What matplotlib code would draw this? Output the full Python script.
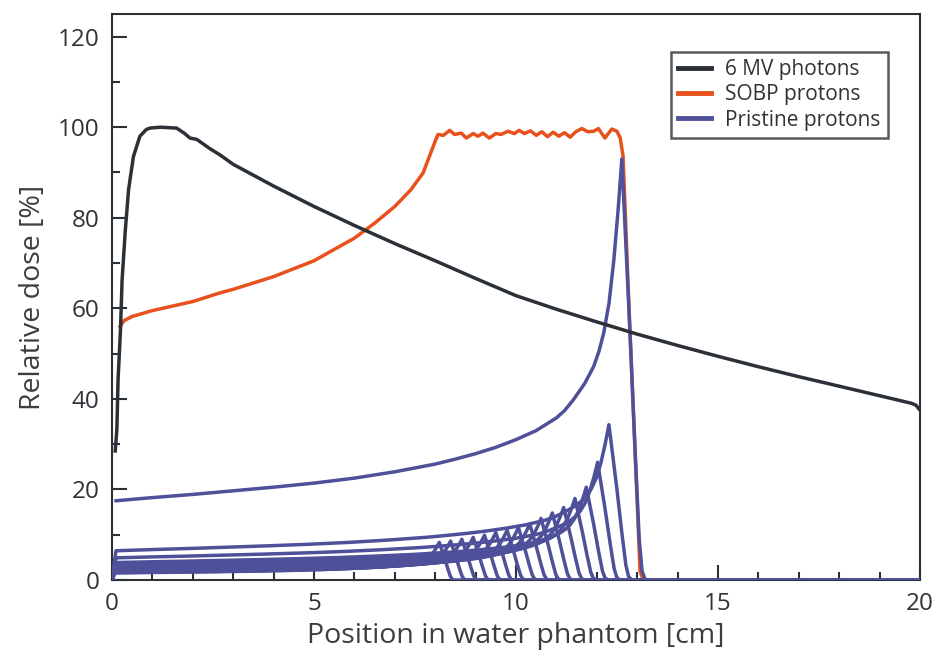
import numpy as np
import matplotlib
matplotlib.use("Agg")
import matplotlib.pyplot as plt
from matplotlib.ticker import MultipleLocator

plt.rcParams['font.family'] = ['Open Sans', 'DejaVu Sans']

# 6 MV photon depth dose
photon_x = [0.08, 0.12, 0.15, 0.21, 0.25, 0.33, 0.41, 0.53, 0.69, 0.85, 0.94, 1.2, 1.6,
            1.8, 1.93, 2.1, 2.4, 2.67, 3, 4, 5, 6, 7, 8, 9, 10, 11, 12, 13, 14, 15,
            16, 17, 18, 19, 19.8, 19.9, 20]
photon_y = [28.5, 33.2, 44.2, 55.2, 66.3, 77.3, 86.2, 93.5, 98.0, 99.5, 99.8, 100, 99.8,
            98.6, 97.6, 97.3, 95.4, 93.9, 91.8, 87.0, 82.5, 78.3, 74.3, 70.5, 66.6, 62.8, 59.8, 57.0,
            54.3, 51.8, 49.4, 47.1, 44.9, 42.8, 40.7, 39.0, 38.6, 37.5]

# spread-out Bragg peak
sobp_x = [0.2, 0.3, 0.5, 1, 2, 2.67, 3, 4, 5, 5.5, 6, 6.5, 7, 7.4, 7.7, 8.0, 8.07,
          8.2, 8.36, 8.48, 8.65, 8.77, 8.94, 9.06, 9.18, 9.34, 9.5, 9.63, 9.8, 9.96,
          10.08, 10.21, 10.36, 10.5, 10.64, 10.78, 10.92, 11.06, 11.2, 11.34, 11.48,
          11.63, 11.78, 11.92, 12.04, 12.2, 12.37, 12.5, 12.58, 12.65, 12.82, 12.95,
          13.07, 13.15, 20]
sobp_y = [56.0, 57.3, 58.2, 59.5, 61.5, 63.4, 64.2, 67.0, 70.5, 73.0, 75.5, 78.8, 82.5,
          86.2, 89.9, 96.9, 98.4,
          98.2, 99.3, 98.4, 98.7, 97.6, 98.6, 98.0, 98.7, 97.6, 98.6, 98.4, 99.1, 98.6,
          99.3, 98.6, 99.2, 98.2, 99.0, 97.9, 98.9, 98.0, 98.8, 97.8, 99.0,
          99.7, 99.0, 99.1, 99.7, 97.6, 99.6, 99.1, 97.6, 93.6, 55.0, 28.0,
          2.0, 0.0, 0.0]

# single (unweighted) pristine Bragg curve
pristine_x = [0.1, 1, 2, 3, 4, 5, 6, 7, 8, 8.5, 9, 9.5, 10, 10.5, 11, 11.2, 11.42, 11.7,
              11.92, 12.05, 12.17, 12.3, 12.42, 12.53, 12.62, 12.72, 12.82, 12.95, 13.05,
              13.12, 13.2, 20]
pristine_y = [17.5, 18.2, 18.9, 19.7, 20.5, 21.4, 22.5, 23.9, 25.6, 26.7, 27.9, 29.3, 31.0,
              33.0, 35.8, 37.4, 39.8, 43.4, 47.1, 50.4, 54.5, 61.0, 70.5, 82.0, 93.0, 74.0,
              55.0, 28.0, 9.0, 2.0, 0.0, 0.0]

# weighted pristine peaks making up the SOBP
peak_depth = [8.10, 8.38, 8.66, 8.94, 9.22, 9.50, 9.78, 10.06, 10.34, 10.62, 10.90,
              11.18, 11.46, 11.74, 12.02, 12.30]
peak_dose = [8.3, 8.6, 9.0, 9.4, 9.9, 10.5, 11.0, 11.6, 12.4, 13.6, 14.8, 16.0, 18.0,
             20.5, 26.0, 34.3]

c_photon = '#2b3137'
c_sobp = '#e8501c'
c_prist = '#4f509a'
c_axis = '#2b3137'

fig = plt.figure(figsize=(9.38, 6.6), dpi=100)
ax = fig.add_axes([112/938, 1-580/660, 808/938, 566/660])

lw = 2.5
ax.plot(sobp_x, sobp_y, color=c_sobp, lw=lw, label='SOBP protons', zorder=2)

# small pristine curves: shape of the single curve, shifted to each peak depth
tx = np.array(pristine_x[:-1])
ty = np.array(pristine_y[:-1])
pk = pristine_x[int(np.argmax(pristine_y))]
for d, h in zip(peak_depth, peak_dose):
    xs = np.concatenate([[0.0], tx * d / pk, [20]])
    ys = np.concatenate([[0.0], ty * h / max(pristine_y), [0.0]])
    ax.plot(xs, ys, color=c_prist, lw=lw, zorder=3)
ax.plot(pristine_x, pristine_y, color=c_prist, lw=lw, label='Pristine protons', zorder=3)

ax.plot(photon_x, photon_y, color=c_photon, lw=lw, label='6 MV photons', zorder=4)

ax.set_xlim(0, 20)
ax.set_ylim(0, 125)
ax.xaxis.set_major_locator(MultipleLocator(5))
ax.xaxis.set_minor_locator(MultipleLocator(1))
ax.yaxis.set_major_locator(MultipleLocator(20))
ax.yaxis.set_minor_locator(MultipleLocator(10))
ax.tick_params(which='both', direction='in', top=False, right=False,
               width=1.5, color=c_axis, labelsize=17.5, labelcolor='#2f3338', pad=9)
ax.tick_params(which='major', length=11)
ax.tick_params(which='minor', length=6)
for s in ax.spines.values():
    s.set_linewidth(1.5)
    s.set_color(c_axis)

ax.set_xlabel('Position in water phantom [cm]', fontsize=20.5, color='#3a3e43', labelpad=4)
ax.set_ylabel('Relative dose [%]', fontsize=20.5, color='#3a3e43', labelpad=8)

h, l = ax.get_legend_handles_labels()
order = [l.index('6 MV photons'), l.index('SOBP protons'), l.index('Pristine protons')]
leg = ax.legend([h[i] for i in order], [l[i] for i in order], loc='upper right',
                bbox_to_anchor=(0.960, 0.933), fontsize=15, frameon=True, fancybox=False,
                edgecolor='#2b3137', handlelength=1.6, handletextpad=0.65,
                labelspacing=0.2, borderpad=0.35, borderaxespad=0)
leg.get_frame().set_linewidth(1.8)
for line in leg.get_lines():
    line.set_linewidth(3.5)
for t in leg.get_texts():
    t.set_color('#2f3338')

fig.savefig('out.png', dpi=100)
